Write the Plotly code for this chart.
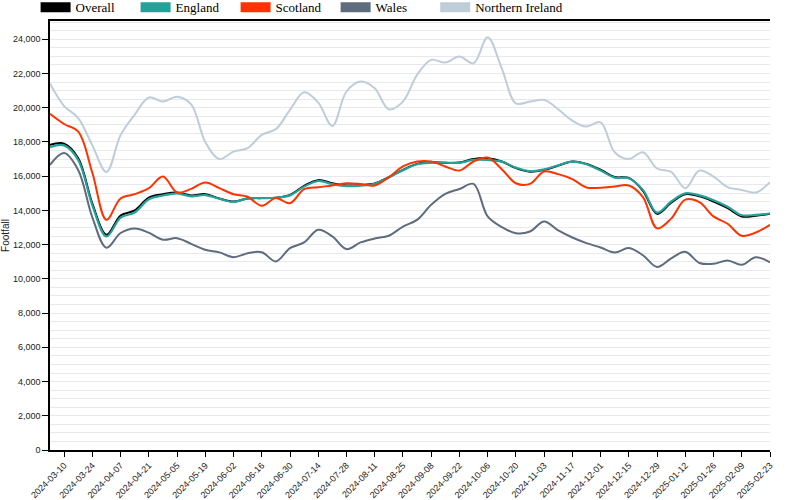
import plotly.graph_objects as go
import pandas as pd

# weekly footfall, first week 2024-03-03
weeks = pd.date_range("2024-03-03", periods=52, freq="7D")

overall = [17830, 17900, 17050, 14400, 12580, 13700, 14000, 14750, 14950, 15050,
           14870, 14950, 14700, 14520, 14700, 14720, 14740, 14910, 15440, 15770,
           15590, 15460, 15480, 15570, 15940, 16370, 16720, 16820, 16780, 16800,
           17000, 17050, 16860, 16470, 16260, 16370, 16620, 16860, 16720, 16380,
           15950, 15900, 15150, 13800, 14450, 14950, 14820, 14520, 14130, 13650,
           13690, 13800]
england = [17700, 17800, 16950, 14300, 12480, 13580, 13880, 14650, 14870, 15000,
           14820, 14900, 14680, 14500, 14700, 14720, 14740, 14880, 15390, 15720,
           15540, 15420, 15450, 15560, 15930, 16350, 16700, 16790, 16790, 16780,
           16960, 16950, 16850, 16500, 16290, 16400, 16640, 16850, 16700, 16330,
           15920, 15880, 15200, 13870, 14520, 15000, 14880, 14600, 14220, 13720,
           13740, 13820]
scotland = [19650, 19050, 18600, 16200, 13450, 14700, 14950, 15300, 15980, 15050,
            15260, 15630, 15300, 14950, 14800, 14270, 14720, 14420, 15240, 15360,
            15460, 15590, 15550, 15460, 15940, 16570, 16860, 16860, 16570, 16330,
            16860, 17090, 16410, 15590, 15550, 16280, 16120, 15830, 15340, 15330,
            15400, 15460, 14780, 12950, 13520, 14630, 14480, 13650, 13220, 12520,
            12710, 13160]
wales = [16660, 17350, 16350, 13600, 11820, 12680, 12950, 12700, 12290, 12380,
         12050, 11700, 11550, 11270, 11500, 11560, 11020, 11800, 12130, 12870,
         12480, 11740, 12130, 12360, 12520, 13060, 13450, 14330, 14970, 15250,
         15550, 13650, 13030, 12670, 12770, 13350, 12830, 12420, 12090, 11830,
         11540, 11800, 11380, 10700, 11200, 11580, 10930, 10880, 11080, 10820,
         11270, 10960]
northern_ireland = [21400, 20100, 19400, 17800, 16240, 18400, 19600, 20600, 20360, 20650,
                    20200, 18000, 17000, 17440, 17640, 18420, 18750, 19880, 20900, 20300,
                    18940, 20950, 21530, 21140, 19910, 20360, 21920, 22800, 22640, 22990,
                    22600, 24120, 22300, 20260, 20360, 20460, 19910, 19250, 18900, 19150,
                    17400, 17000, 17400, 16450, 16250, 15300, 16330, 15980, 15360, 15200,
                    15050, 15650]

names = ["Overall", "England", "Scotland", "Wales", "Northern Ireland"]
colors = ["#000000", "#24a198", "#ff3300", "#5e6c7d", "#bfcdd9"]
series = [overall, england, scotland, wales, northern_ireland]

fig = go.Figure()

for name, col, vals in zip(names, colors, series):
    fig.add_trace(go.Scatter(x=weeks, y=vals, name=name, mode="lines",
                             line=dict(color=col, width=2.2 if name == "England" else 2,
                                       shape="spline", smoothing=1),
                             showlegend=False))

# legend swatches only (last one in its own legend so the long name isn't clipped)
for k, (name, col) in enumerate(zip(names, colors)):
    fig.add_trace(go.Scatter(x=[None], y=[None], name=name, mode="lines",
                             line=dict(color=col, width=10),
                             legend="legend2" if k == 4 else "legend"))

leg_font = dict(family="Liberation Serif, Times New Roman, serif", size=13, color="#000")
fig.update_layout(
    width=800, height=500,
    margin=dict(l=50, r=30, t=21, b=50, autoexpand=False),
    plot_bgcolor="white", paper_bgcolor="white",
    font=dict(family="Liberation Sans, Arial, sans-serif", size=9, color="#222"),
    legend=dict(orientation="h", x=-0.02, xanchor="left", y=1.067, yanchor="top",
                entrywidth=55, entrywidthmode="pixels", itemwidth=30,
                bgcolor="rgba(0,0,0,0)", font=leg_font),
    legend2=dict(orientation="h", x=0.535, xanchor="left", y=1.067, yanchor="top",
                 itemwidth=30, bgcolor="rgba(0,0,0,0)", font=leg_font),
)

fig.update_xaxes(
    range=[weeks[0], weeks[-1]],
    tick0="2024-03-10", dtick=14 * 86400000, tickformat="%Y-%m-%d",
    tickangle=-45, ticks="outside", ticklen=5, tickcolor="black",
    showline=True, linecolor="black", linewidth=1.5, mirror=True,
    showgrid=False, zeroline=False,
)
fig.update_yaxes(
    range=[0, 25070], dtick=2000, tickformat=",d",
    ticks="outside", ticklen=6, tickcolor="black",
    showline=True, linecolor="black", linewidth=1.5,
    showgrid=True, gridcolor="#e8e8ee", gridwidth=1, zeroline=False,
    minor=dict(dtick=500, showgrid=True, gridcolor="#e8e8ee", gridwidth=1),
    title=dict(text="Footfall", standoff=4, font=dict(size=10)),
)

fig.write_html("out.html", config={"displayModeBar": False},
               post_script="document.body.style.margin = '0';")
